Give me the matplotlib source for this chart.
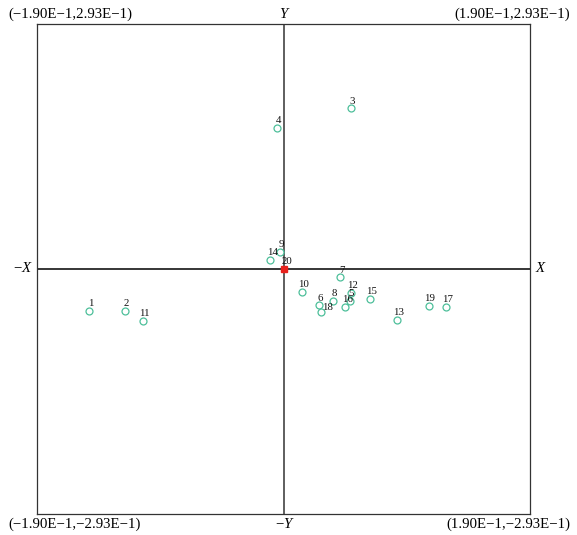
import matplotlib
matplotlib.use("Agg")
import matplotlib.pyplot as plt

plt.rcParams['font.family'] = ['Liberation Serif', 'DejaVu Serif']

labels = [str(i) for i in range(1, 21)]
xs = [-0.1497, -0.1222, 0.0518, -0.0048, 0.0515, 0.0274, 0.0438, 0.0382, -0.0027, 0.0143,
      -0.1085, 0.0518, 0.0875, -0.0102, 0.0669, 0.0476, 0.1255, 0.0289, 0.1119, 0.0]
ys = [-0.0502, -0.0502, 0.1922, 0.1690, -0.0379, -0.0434, -0.0099, -0.0386, 0.0200, -0.0271,
      -0.0622, -0.0287, -0.0606, 0.0108, -0.0359, -0.0454, -0.0451, -0.0511, -0.0439, 0.0]
xlim = 0.190
ylim = 0.293
corner_labels = ["(−1.90E−1,2.93E−1)", "(1.90E−1,2.93E−1)",
                 "(−1.90E−1,−2.93E−1)", "(1.90E−1,−2.93E−1)"]

W, H = 577, 535
fig = plt.figure(figsize=(W / 100, H / 100), dpi=100)
ax = fig.add_axes([37 / W, (H - 514) / H, 493 / W, 490 / H])
ax.set_xlim(-xlim, xlim)
ax.set_ylim(-ylim, ylim)
ax.set_xticks([])
ax.set_yticks([])
for s in ax.spines.values():
    s.set_color('#333333')
    s.set_linewidth(0.9)

ax.axhline(0, color='black', lw=1.1, zorder=1)
ax.axvline(0, color='#333333', lw=1.1, zorder=1)

teal = '#4dbf9a'
for lab, x, y in zip(labels, xs, ys):
    if lab == '20':
        ax.plot(x, y, marker='s', ms=4, color='#e8211c', mec='#e8211c', zorder=3)
    else:
        ax.plot(x, y, marker='o', ms=5, mfc='white', mec=teal, mew=0.9, zorder=3)

offsets = {'18': (5, 0), '20': (2.5, 2), '16': (2, 2), '14': (2, 2), '5': (0.5, 2)}
for lab, x, y in zip(labels, xs, ys):
    dx, dy = offsets.get(lab, (1, 2))
    ax.annotate(lab, (x, y), xytext=(dx, dy), textcoords='offset points',
                ha='center', va='bottom', fontsize=7.8, color='#111111', zorder=4)

fs = 10.7
fig.text(8 / W, 1 - 14 / H, corner_labels[0], ha='left', va='center', fontsize=fs)
fig.text(570 / W, 1 - 14 / H, corner_labels[1], ha='right', va='center', fontsize=fs)
fig.text(8 / W, 1 - 524 / H, corner_labels[2], ha='left', va='center', fontsize=fs)
fig.text(570 / W, 1 - 524 / H, corner_labels[3], ha='right', va='center', fontsize=fs)
fig.text(283.5 / W, 1 - 14 / H, "Y", ha='center', va='center', fontsize=fs, style='italic')
fig.text(283.5 / W, 1 - 524 / H, "−Y", ha='center', va='center', fontsize=fs, style='italic')
fig.text(22 / W, 1 - 268 / H, "−X", ha='center', va='center', fontsize=fs, style='italic')
fig.text(540 / W, 1 - 268 / H, "X", ha='center', va='center', fontsize=fs, style='italic')

fig.savefig('out.png', dpi=100, facecolor='white')
